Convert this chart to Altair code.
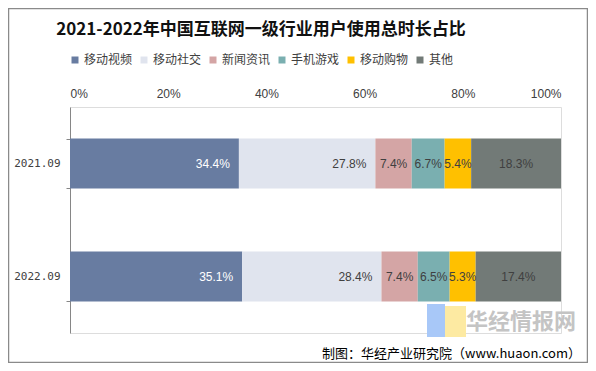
import altair as alt
import pandas as pd

periods = ["2021.09", "2022.09"]
categories = ["移动视频", "移动社交", "新闻资讯", "手机游戏", "移动购物", "其他"]
v2021 = [34.4, 27.8, 7.4, 6.7, 5.4, 18.3]
v2022 = [35.1, 28.4, 7.4, 6.5, 5.3, 17.4]
colors = ["#687ca1", "#e0e4ee", "#d4a5a5", "#7aafb0", "#ffc000", "#727a77"]
x_ticks = [0, 0.2, 0.4, 0.6, 0.8, 1.0]
end_labelled = ["移动视频", "移动社交"]

rows = []
for period, vals in zip(periods, [v2021, v2022]):
    total = sum(vals)
    cum = 0.0
    for i, (cat, v) in enumerate(zip(categories, vals)):
        s = cum / total
        cum += v
        e = cum / total
        rows.append({"period": period, "category": cat, "order": i, "value": v,
                     "start": s, "end": e, "mid": (s + e) / 2, "label": f"{v:.1f}%"})
df = pd.DataFrame(rows)

FONT_CJK = "Noto Sans CJK SC"
FONT_LAT = "Liberation Sans"

yscale = alt.Scale(paddingInner=0.558, paddingOuter=0.279)
yaxis = alt.Axis(title=None, domainColor="#868686", tickColor="#868686",
                 tickSize=4, tickBand="extent", labelPadding=6,
                 labelFont="DejaVu Sans Mono", labelFontSize=11,
                 labelColor="#404040")
xscale = alt.Scale(domain=[0, 1], nice=False)
xaxis = alt.Axis(orient="top", values=x_ticks, format=".0%", domain=False,
                 ticks=False, grid=False, labelPadding=7, title=None,
                 labelFont=FONT_LAT, labelFontSize=12, labelColor="#404040")

bars = alt.Chart(df).mark_bar().encode(
    y=alt.Y("period:N", sort=periods, scale=yscale, axis=yaxis),
    x=alt.X("start:Q", scale=xscale, axis=xaxis),
    x2="end:Q",
    color=alt.Color("category:N", sort=categories,
                    scale=alt.Scale(domain=categories, range=colors),
                    legend=alt.Legend(title=None, orient="none", direction="horizontal",
                                      legendX=-1, legendY=-53, columns=6,
                                      symbolType="square", symbolSize=49,
                                      symbolStrokeWidth=0, labelOffset=3,
                                      columnPadding=5, padding=0,
                                      labelFont=FONT_CJK, labelFontSize=12,
                                      labelColor="#404040")),
    order="order:Q",
)

txt_color = alt.condition(alt.datum.category == "移动视频", alt.value("white"), alt.value("#404040"))

end_text = alt.Chart(df).transform_filter(
    alt.FieldOneOfPredicate(field="category", oneOf=end_labelled)
).mark_text(align="right", dx=-9, font=FONT_LAT, fontSize=12).encode(
    y=alt.Y("period:N", sort=periods, scale=yscale, axis=yaxis),
    x=alt.X("end:Q", scale=xscale, axis=xaxis),
    text="label:N",
    color=txt_color,
)

mid_text = alt.Chart(df).transform_filter(
    ~alt.FieldOneOfPredicate(field="category", oneOf=end_labelled)
).mark_text(align="center", font=FONT_LAT, fontSize=12).encode(
    y=alt.Y("period:N", sort=periods, scale=yscale, axis=yaxis),
    x=alt.X("mid:Q", scale=xscale, axis=xaxis),
    text="label:N",
    color=alt.value("#404040"),
)

one = pd.DataFrame({"t": ["2021-2022年中国互联网一级行业用户使用总时长占比"]})
title = alt.Chart(one).mark_text(font=FONT_CJK, fontSize=17, fontWeight="bold",
                                 color="#111111", align="center", baseline="middle").encode(
    text="t:N", x=alt.value(191), y=alt.value(-77))

src = pd.DataFrame({"t": ["制图：华经产业研究院（www.huaon.com）"]})
source = alt.Chart(src).mark_text(font=FONT_CJK, fontSize=13, color="#000000",
                                  align="right", baseline="middle").encode(
    text="t:N", x=alt.value(511), y=alt.value(247))

wm = pd.DataFrame({"t": ["华经情报网"]})
watermark = alt.Chart(wm).mark_text(font=FONT_CJK, fontSize=22, fontWeight="bold",
                                    color="#c4c4c4", align="center", baseline="middle").encode(
    text="t:N", x=alt.value(451), y=alt.value(215))

logo_df = pd.DataFrame({"k": [0]})
logo_blue = alt.Chart(logo_df).mark_rect(color="#a8c8f8").encode(
    x=alt.value(357), x2=alt.value(375), y=alt.value(197), y2=alt.value(230))
logo_yellow = alt.Chart(logo_df).mark_rect(color="#fdeaa2").encode(
    x=alt.value(375), x2=alt.value(396), y=alt.value(199), y2=alt.value(230))

border = alt.Chart(logo_df).mark_rect(fill=None, stroke="#8a8a8a", strokeWidth=1.5).encode(
    x=alt.value(-61.5), x2=alt.value(517.5), y=alt.value(-98.5), y2=alt.value(255.5))

chart = alt.layer(
    logo_blue, logo_yellow, watermark,
    bars, end_text, mid_text, title, source, border
).properties(
    width=491, height=226,
    autosize=alt.AutoSizeParams(type="none"),
    padding={"left": 62, "top": 99, "right": 27, "bottom": 30},
).configure_view(stroke=None).configure(background="white")

chart.save("out.html", embed_options={"renderer": "svg", "actions": False})
